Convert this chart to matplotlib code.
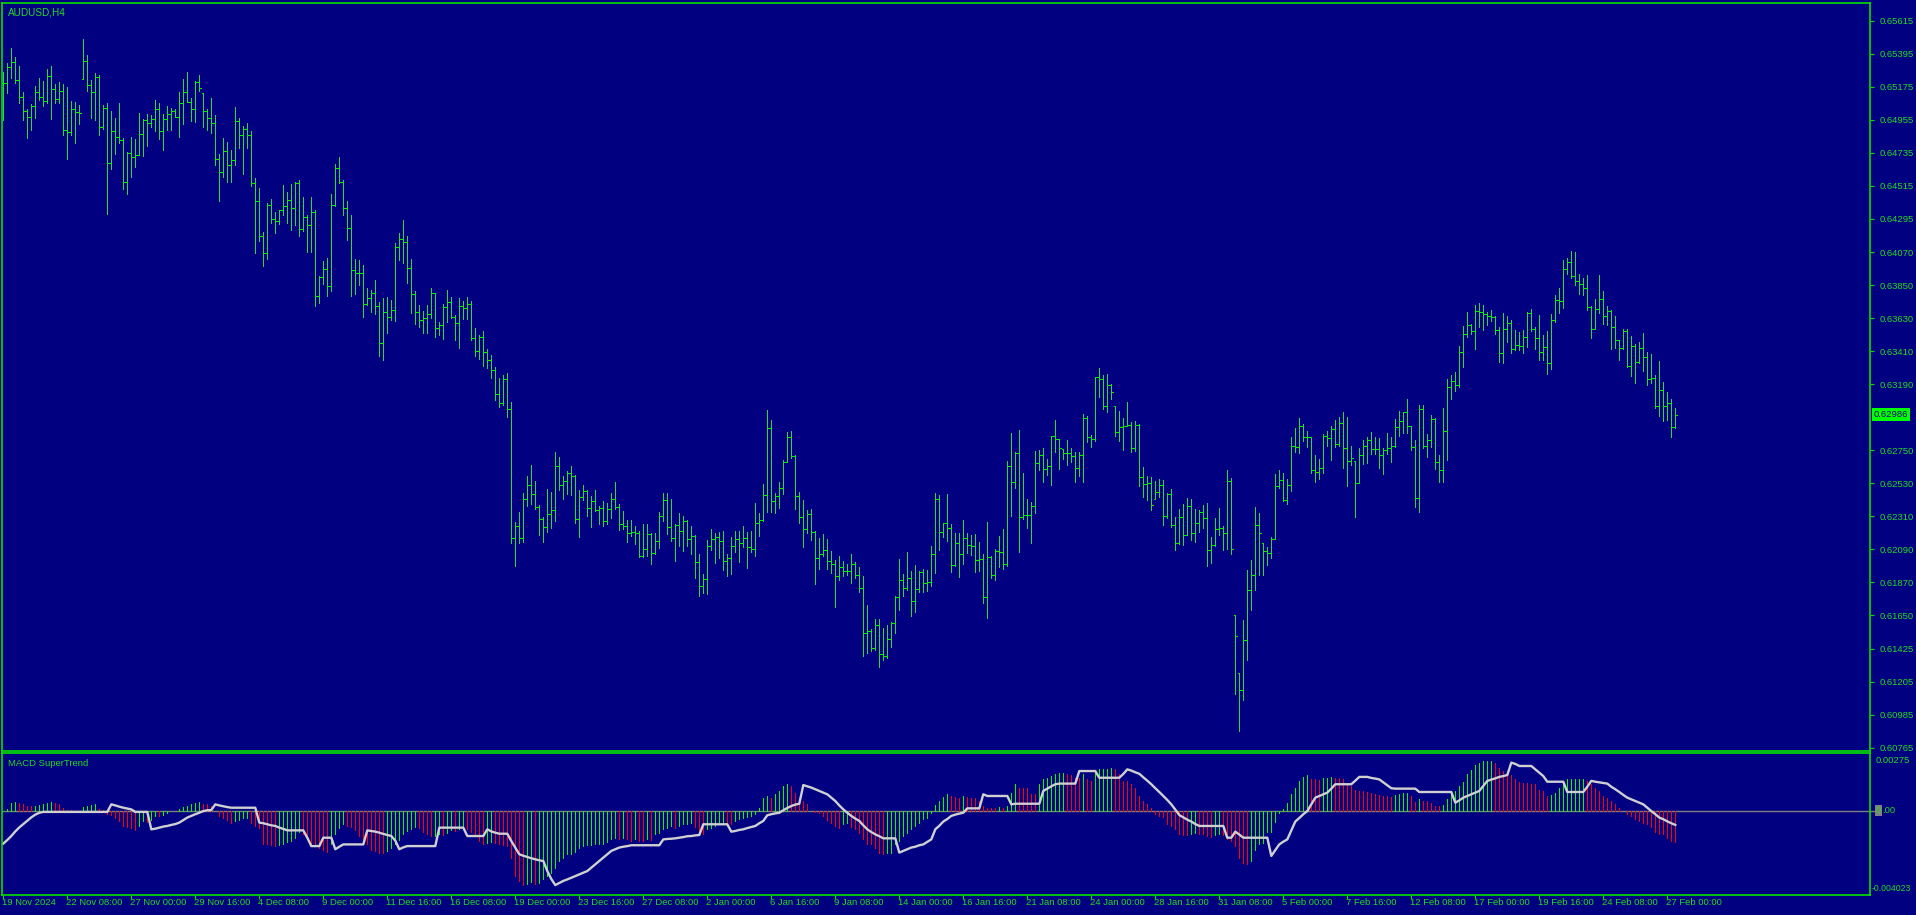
import numpy as np
import matplotlib
matplotlib.use("Agg")
import matplotlib.pyplot as plt
from matplotlib.transforms import blended_transform_factory

# AUDUSD H4 bars, prices in points (1 point = 0.00001)
high_pts = [
    65273, 65333, 65433, 65373, 65313, 65139, 65026, 65059, 65179, 65233,
    65213, 65293, 65313, 65193, 65206, 65193, 65173, 65079, 65073, 65053,
    65493, 65386, 65219, 65266, 65253, 65053, 65066, 65013, 64966, 65066,
    64833, 64739, 64839, 64826, 64999, 64959, 64993, 64986, 65086, 65066,
    64993, 65046, 65033, 65026, 65139, 65226, 65273, 65099, 65213, 65253,
    65133, 65026, 65099, 64986, 64726, 64833, 64806, 64752, 65039, 64966,
    64913, 64933, 64879, 64566, 64499, 64206, 64399, 64426, 64339, 64352,
    64519, 64472, 64526, 64539, 64552, 64439, 64319, 64439, 64352, 63912,
    64012, 64032, 64459, 64659, 64706, 64552, 64412, 64319, 64025, 64019,
    63985, 63832, 63819, 63885, 63739, 63765, 63772, 63752, 64132, 64199,
    64286, 64179, 64025, 63812, 63719, 63679, 63719, 63832, 63799, 63605,
    63725, 63819, 63772, 63652, 63765, 63745, 63772, 63745, 63565, 63519,
    63545, 63425, 63385, 63305, 63232, 63252, 63265, 63072, 62271, 62338,
    62465, 62578, 62651, 62545, 62385, 62305, 62491, 62471, 62738, 62705,
    62578, 62611, 62645, 62585, 62485, 62518, 62485, 62445, 62485, 62378,
    62411, 62398, 62465, 62538, 62391, 62345, 62285, 62285, 62245, 62211,
    62258, 62258, 62198, 62198, 62338, 62465, 62465, 62425, 62258, 62331,
    62311, 62285, 62245, 62185, 62058, 61924, 62151, 62225, 62198, 62205,
    62211, 62058, 62171, 62211, 62211, 62245, 62205, 62211, 62398, 62331,
    62525, 63018, 62952, 62465, 62538, 62685, 62872, 62878, 62718, 62471,
    62418, 62351, 62358, 62211, 62165, 62191, 62158, 62078, 62018, 62045,
    62011, 61991, 62058, 62005, 61971, 61911, 61718, 61558, 61624, 61624,
    61564, 61584, 61604, 61778, 62025, 61924, 62071, 61944, 61984, 61944,
    61958, 61951, 62111, 62465, 62451, 62265, 62458, 62258, 62198, 62198,
    62285, 62198, 62185, 62191, 62138, 62058, 62271, 62045, 62091, 62178,
    62225, 62678, 62865, 62738, 62885, 62598, 62425, 62405, 62745, 62751,
    62765, 62691, 62845, 62952, 62825, 62758, 62818, 62765, 62738, 62738,
    62992, 62978, 62851, 63238, 63298, 63252, 63258, 63192, 63045, 63012,
    62965, 63072, 62938, 62945, 62925, 62638, 62578, 62571, 62545, 62558,
    62551, 62465, 62491, 62305, 62358, 62391, 62431, 62425, 62358, 62351,
    62385, 62398, 62171, 62298, 62365, 62245, 62618, 62565, 61651, 61264,
    61618, 61951, 62018, 62371, 62331, 62131, 62105, 62171, 62591, 62618,
    62598, 62558, 62838, 62898, 62965, 62925, 62878, 62838, 62718, 62691,
    62858, 62878, 62912, 62952, 62972, 63005, 62972, 62778, 62678, 62765,
    62818, 62838, 62872, 62838, 62831, 62765, 62865, 62838, 62958, 63012,
    63005, 63092, 62912, 62818, 63052, 63052, 62858, 62985, 62965, 62718,
    63032, 63225, 63252, 63272, 63445, 63579, 63672, 63592, 63719, 63732,
    63719, 63672, 63685, 63645, 63572, 63665, 63645, 63619, 63552, 63539,
    63552, 63672, 63692, 63572, 63652, 63519, 63545, 63659, 63785, 63832,
    64019, 64032, 64079, 64072, 63925, 63899, 63919, 63712, 63759, 63919,
    63812, 63712, 63685, 63645, 63485, 63559, 63559, 63512, 63459, 63472,
    63532, 63405, 63392, 63252, 63345, 63205, 63138, 63092, 63032,
]
low_pts = [
    64953, 65133, 65233, 65199, 65066, 64953, 64833, 64886, 64966, 65086,
    65046, 65066, 64959, 65066, 65066, 64853, 64692, 64853, 64799, 64926,
    65226, 65146, 64966, 64953, 64853, 64893, 64326, 64626, 64726, 64799,
    64492, 64459, 64572, 64639, 64719, 64712, 64779, 64906, 64879, 64826,
    64752, 64886, 64886, 64973, 64839, 64926, 65073, 64946, 64939, 65146,
    64906, 64886, 64866, 64652, 64412, 64572, 64539, 64539, 64652, 64766,
    64592, 64766, 64512, 64066, 64146, 63979, 64025, 64266, 64199, 64259,
    64319, 64266, 64219, 64252, 64179, 64212, 64072, 64072, 63712, 63732,
    63859, 63779, 63812, 64379, 64532, 64319, 64152, 63779, 63792, 63852,
    63639, 63719, 63672, 63659, 63379, 63352, 63532, 63619, 63612, 64019,
    63999, 63865, 63665, 63592, 63572, 63532, 63532, 63632, 63505, 63519,
    63492, 63605, 63632, 63485, 63432, 63625, 63625, 63485, 63379, 63359,
    63312, 63298, 63232, 63085, 63038, 63052, 62972, 62131, 61978, 62131,
    62138, 62378, 62391, 62358, 62185, 62138, 62205, 62231, 62278, 62485,
    62425, 62458, 62451, 62265, 62171, 62418, 62311, 62238, 62345, 62258,
    62245, 62258, 62298, 62358, 62218, 62225, 62138, 62178, 62125, 62038,
    62038, 62045, 61991, 62058, 62098, 62278, 62191, 62145, 62011, 62111,
    62078, 62111, 62058, 61898, 61778, 61798, 61791, 62085, 61998, 62031,
    61951, 61911, 61924, 62071, 62005, 62105, 61964, 62071, 62045, 62178,
    62278, 62338, 62338, 62331, 62365, 62458, 62671, 62698, 62358, 62265,
    62105, 62198, 62151, 61858, 61958, 62045, 61958, 61931, 61704, 61884,
    61911, 61918, 61864, 61898, 61804, 61378, 61398, 61411, 61418, 61304,
    61351, 61364, 61438, 61531, 61684, 61778, 61818, 61644, 61671, 61804,
    61804, 61811, 61844, 61931, 62085, 62171, 62145, 61938, 61978, 61904,
    61991, 62065, 62051, 61938, 61944, 61731, 61631, 61898, 61884, 61971,
    61958, 61978, 62311, 62498, 62071, 62291, 62231, 62131, 62331, 62618,
    62538, 62585, 62518, 62738, 62625, 62691, 62651, 62671, 62538, 62578,
    62538, 62805, 62771, 62811, 63105, 63025, 63005, 63092, 62845, 62811,
    62751, 62912, 62738, 62745, 62511, 62438, 62418, 62351, 62425, 62438,
    62251, 62298, 62238, 62085, 62125, 62118, 62185, 62151, 62138, 62205,
    62231, 61978, 61998, 62111, 62185, 62085, 62091, 62058, 61124, 60877,
    61084, 61351, 61684, 61818, 61918, 61918, 61984, 62031, 62158, 62498,
    62411, 62391, 62478, 62738, 62731, 62811, 62771, 62598, 62538, 62558,
    62598, 62778, 62685, 62771, 62778, 62631, 62511, 62651, 62305, 62531,
    62658, 62665, 62725, 62725, 62631, 62591, 62725, 62671, 62771, 62845,
    62865, 62865, 62751, 62371, 62338, 62765, 62705, 62771, 62625, 62538,
    62538, 62685, 63092, 63145, 63172, 63305, 63505, 63525, 63425, 63572,
    63552, 63585, 63612, 63525, 63339, 63332, 63472, 63399, 63419, 63419,
    63399, 63439, 63545, 63425, 63352, 63352, 63258, 63292, 63605, 63665,
    63699, 63925, 63899, 63852, 63792, 63785, 63685, 63499, 63559, 63665,
    63592, 63585, 63425, 63432, 63352, 63425, 63305, 63245, 63198, 63332,
    63278, 63185, 63198, 63032, 62978, 62945, 62952, 62838, 62898,
]
close_pts = [
    65199, 65306, 65340, 65219, 65106, 65013, 64973, 65046, 65139, 65106,
    65079, 65246, 65159, 65093, 65146, 64886, 64873, 65026, 65006, 64999,
    65346, 65186, 65139, 65239, 64906, 65033, 64666, 64879, 64839, 64819,
    64539, 64732, 64706, 64719, 64859, 64953, 64933, 64959, 65026, 64879,
    64959, 64993, 65013, 64973, 65066, 65139, 65073, 65026, 65206, 65166,
    65013, 64966, 64933, 64692, 64606, 64746, 64652, 64686, 64946, 64853,
    64893, 64853, 64532, 64412, 64179, 64066, 64386, 64292, 64279, 64352,
    64379, 64419, 64366, 64532, 64226, 64306, 64252, 64339, 63779, 63905,
    63959, 63845, 64386, 64632, 64539, 64366, 64232, 63952, 63932, 63932,
    63725, 63765, 63799, 63712, 63465, 63672, 63639, 63685, 64106, 64159,
    64139, 63965, 63792, 63672, 63619, 63632, 63659, 63799, 63565, 63585,
    63705, 63739, 63639, 63599, 63712, 63699, 63725, 63499, 63412, 63505,
    63405, 63352, 63285, 63125, 63065, 63225, 63025, 62165, 62245, 62165,
    62425, 62518, 62458, 62371, 62291, 62238, 62325, 62351, 62645, 62518,
    62545, 62598, 62578, 62291, 62438, 62478, 62365, 62411, 62351, 62365,
    62278, 62358, 62425, 62371, 62258, 62245, 62198, 62205, 62198, 62045,
    62091, 62191, 62065, 62145, 62311, 62418, 62238, 62165, 62251, 62211,
    62278, 62158, 62178, 62005, 61844, 61891, 62111, 62158, 62171, 62145,
    62011, 62031, 62111, 62158, 62131, 62165, 62105, 62091, 62265, 62285,
    62451, 62898, 62411, 62445, 62498, 62671, 62838, 62711, 62445, 62305,
    62225, 62325, 62205, 62031, 62058, 62085, 62011, 61991, 61911, 61971,
    61944, 61944, 61991, 61918, 61831, 61531, 61544, 61431, 61584, 61391,
    61378, 61491, 61598, 61771, 61884, 61831, 61898, 61744, 61824, 61938,
    61864, 61871, 62058, 62425, 62205, 62265, 62231, 61984, 62131, 62058,
    62165, 62118, 62111, 62018, 62025, 61771, 62038, 61918, 62078, 62071,
    61991, 62645, 62538, 62731, 62305, 62318, 62318, 62378, 62665, 62718,
    62625, 62645, 62845, 62825, 62765, 62731, 62731, 62711, 62631, 62718,
    62965, 62838, 62825, 63238, 63225, 63045, 63185, 63138, 62872, 62905,
    62912, 62918, 62765, 62918, 62571, 62525, 62531, 62385, 62471, 62518,
    62311, 62458, 62251, 62131, 62305, 62185, 62378, 62198, 62265, 62338,
    62298, 62085, 62118, 62225, 62231, 62198, 62545, 62091, 61511, 61151,
    61484, 61818, 61918, 62251, 62198, 62078, 62065, 62158, 62511, 62551,
    62418, 62518, 62778, 62771, 62912, 62838, 62838, 62618, 62605, 62631,
    62845, 62831, 62892, 62791, 62932, 62765, 62678, 62698, 62531, 62718,
    62778, 62818, 62758, 62758, 62718, 62751, 62765, 62778, 62905, 62945,
    63005, 62912, 62771, 62431, 63025, 62778, 62818, 62958, 62671, 62618,
    62878, 63172, 63212, 63185, 63405, 63525, 63585, 63545, 63679, 63672,
    63659, 63645, 63639, 63552, 63399, 63559, 63599, 63425, 63452, 63445,
    63505, 63665, 63559, 63499, 63405, 63439, 63332, 63619, 63752, 63745,
    63959, 64005, 63912, 63879, 63859, 63832, 63705, 63559, 63692, 63759,
    63645, 63679, 63572, 63485, 63432, 63545, 63312, 63445, 63339, 63432,
    63372, 63225, 63232, 63045, 63152, 63045, 63065, 62905, 62986,
]

# MACD SuperTrend window, values in 1e-5
hist_e5 = [
    0, 8, 38, 43, 38, 30, 21, 21, 24, 27,
    30, 35, 40, 35, 33, 11, 3, 2, 0, 0,
    17, 21, 25, 30, 10, 5, -17, -22, -37, -49,
    -73, -78, -84, -94, -73, -49, -52, -43, -25, -27,
    -21, -13, -3, 0, 6, 17, 21, 30, 38, 43,
    33, 30, 21, 0, -25, -37, -46, -59, -49, -43,
    -37, -33, -59, -72, -81, -161, -161, -164, -169, -164,
    -161, -149, -145, -129, -100, -113, -137, -164, -169, -178,
    -186, -196, -161, -113, -81, -65, -73, -80, -92, -122,
    -145, -161, -186, -194, -200, -202, -192, -176, -161, -138,
    -113, -97, -86, -78, -81, -100, -113, -122, -121, -113,
    -114, -105, -94, -97, -89, -78, -89, -100, -113, -145,
    -161, -154, -149, -154, -161, -164, -169, -224, -312, -335,
    -355, -348, -342, -351, -343, -328, -312, -296, -272, -240,
    -224, -208, -208, -196, -176, -169, -165, -162, -159, -159,
    -159, -148, -137, -129, -134, -132, -137, -145, -137, -145,
    -145, -137, -142, -113, -105, -89, -81, -73, -81, -73,
    -65, -65, -57, -78, -100, -110, -89, -81, -73, -65,
    -57, -62, -62, -49, -41, -37, -30, -25, -17, 11,
    62, 70, 62, 78, 94, 118, 129, 118, 86, 62,
    46, 30, 0, -5, -10, -25, -46, -57, -73, -81,
    -65, -57, -78, -89, -105, -137, -157, -161, -176, -200,
    -208, -200, -200, -161, -145, -121, -105, -89, -73, -57,
    -41, -33, -10, 27, 46, 65, 78, 70, 67, 62,
    70, 67, 62, 62, 46, 22, 14, 14, 14, 17,
    14, 22, 86, 126, 110, 110, 110, 78, 78, 126,
    149, 157, 165, 173, 181, 181, 173, 169, 157, 157,
    173, 149, 142, 189, 197, 197, 197, 205, 197, 173,
    142, 142, 126, 110, 70, 46, 30, 14, -14, -25,
    -30, -65, -73, -89, -113, -116, -116, -113, -105, -113,
    -113, -121, -126, -116, -113, -116, -137, -143, -169, -224,
    -251, -253, -240, -189, -161, -153, -102, -102, -52, -10,
    6, 35, 78, 110, 142, 161, 169, 153, 149, 145,
    157, 157, 162, 157, 154, 153, 126, 118, 97, 94,
    92, 91, 86, 78, 73, 70, 68, 65, 73, 78,
    86, 86, 70, 41, 54, 46, 46, 38, 22, 21,
    25, 54, 78, 94, 118, 138, 176, 192, 216, 229,
    235, 235, 235, 229, 205, 189, 181, 169, 149, 138,
    134, 134, 129, 126, 97, 94, 70, 73, 86, 110,
    142, 149, 149, 149, 149, 149, 142, 126, 110, 94,
    70, 62, 46, 30, 11, 0, -17, -25, -41, -49,
    -57, -65, -78, -100, -110, -113, -129, -145, -149,
]
trend_e5 = [
    -157, -140, -121, -99, -80, -64, -48, -32, -19, -10,
    -6, -6, -6, -6, -6, -6, -6, -6, -6, -6,
    -6, -6, -6, -6, -6, -6, -6, 30, 25, 19,
    14, 10, 6, -6, -6, -6, -6, -89, -86, -81,
    -76, -73, -68, -64, -57, -45, -33, -25, -17, -10,
    -2, 2, 3, 30, 25, 21, 17, 14, 14, 14,
    14, 14, 14, 14, -57, -60, -65, -70, -73, -81,
    -87, -94, -94, -94, -94, -94, -129, -169, -169, -169,
    -129, -129, -129, -184, -172, -161, -161, -161, -161, -161,
    -161, -94, -97, -100, -105, -111, -116, -121, -143, -184,
    -175, -169, -169, -169, -169, -169, -169, -169, -169, -81,
    -81, -81, -81, -81, -81, -81, -121, -121, -121, -121,
    -121, -89, -99, -105, -110, -110, -110, -145, -176, -208,
    -215, -221, -227, -232, -237, -240, -288, -326, -355, -345,
    -335, -328, -320, -312, -304, -296, -288, -272, -256, -240,
    -224, -208, -192, -184, -176, -172, -169, -165, -165, -165,
    -165, -165, -165, -165, -165, -137, -135, -134, -132, -129,
    -126, -122, -121, -118, -116, -65, -65, -65, -65, -65,
    -65, -65, -100, -97, -92, -89, -83, -78, -73, -60,
    -49, -22, -17, -13, -10, 2, 13, 22, 29, 33,
    122, 116, 110, 102, 94, 86, 78, 62, 46, 25,
    6, -10, -25, -38, -49, -70, -89, -102, -113, -122,
    -132, -132, -132, -132, -200, -192, -184, -176, -172, -165,
    -161, -149, -137, -89, -72, -52, -40, -25, -19, -14,
    -10, 11, 11, 11, 11, 78, 70, 70, 70, 70,
    70, 70, 30, 33, 33, 33, 33, 33, 33, 33,
    94, 105, 116, 126, 129, 129, 129, 129, 129, 189,
    189, 189, 189, 189, 157, 157, 157, 157, 157, 157,
    175, 197, 191, 183, 176, 159, 143, 126, 107, 89,
    70, 51, 30, 5, -21, -32, -43, -52, -64, -73,
    -73, -73, -73, -73, -73, -73, -129, -129, -100, -114,
    -129, -129, -129, -129, -129, -129, -129, -216, -188, -161,
    -148, -137, -95, -52, -35, -17, -2, 30, 62, 70,
    78, 86, 105, 126, 126, 126, 126, 126, 143, 161,
    161, 161, 156, 153, 149, 135, 121, 107, 105, 105,
    105, 105, 105, 105, 89, 89, 89, 89, 89, 89,
    89, 89, 89, 38, 49, 62, 70, 78, 86, 94,
    118, 142, 148, 154, 161, 165, 170, 229, 223, 213,
    213, 213, 213, 197, 181, 165, 138, 138, 138, 138,
    138, 89, 89, 89, 89, 89, 114, 142, 138, 135,
    132, 129, 114, 102, 89, 75, 62, 54, 46, 38,
    30, 14, -2, -17, -33, -41, -51, -60, -68,
]

price_ticks = [0.65615, 0.65395, 0.65175, 0.64955, 0.64735, 0.64515, 0.64295,
               0.64070, 0.63850, 0.63630, 0.63410, 0.63190, 0.62750, 0.62530,
               0.62310, 0.62090, 0.61870, 0.61650, 0.61425, 0.61205, 0.60985,
               0.60765]
date_labels = ["19 Nov 2024", "22 Nov 08:00", "27 Nov 00:00", "29 Nov 16:00",
               "4 Dec 08:00", "9 Dec 00:00", "11 Dec 16:00", "16 Dec 08:00",
               "19 Dec 00:00", "23 Dec 16:00", "27 Dec 08:00", "2 Jan 00:00",
               "6 Jan 16:00", "9 Jan 08:00", "14 Jan 00:00", "16 Jan 16:00",
               "21 Jan 08:00", "24 Jan 00:00", "28 Jan 16:00", "31 Jan 08:00",
               "5 Feb 00:00", "7 Feb 16:00", "12 Feb 08:00", "17 Feb 00:00",
               "19 Feb 16:00", "24 Feb 08:00", "27 Feb 00:00"]
macd_top, macd_bottom = 0.00275, -0.004023

BG = '#000080'
FRAME = '#00E000'
TXT = '#22DD22'
BAR = '#30D840'
FS = 6.8
plt.rcParams['font.family'] = ['Liberation Sans', 'DejaVu Sans']

high = np.array(high_pts) / 1e5
low = np.array(low_pts) / 1e5
close = np.clip(np.array(close_pts) / 1e5, low, high)
opn = np.clip(np.r_[close[0], close[:-1]], low, high)
hist = np.array(hist_e5) / 1e5
trend = np.array(trend_e5) / 1e5
x = np.arange(len(close))

W, H = 1916, 915
fig = plt.figure(figsize=(W / 100, H / 100), dpi=100, facecolor=BG)


def px_axes(x0, y0, x1, y1):
    a = fig.add_axes([x0 / W, 1 - y1 / H, (x1 - x0) / W, (y1 - y0) / H])
    a.set_facecolor(BG)
    for s in a.spines.values():
        s.set_color(FRAME)
        s.set_linewidth(1.2)
    return a


ax = px_axes(2, 3, 1870, 751)
mx = px_axes(2, 753, 1870, 895)

# 4 px per bar, first bar 1.3 px inside the frame
x0 = -1.3 / 4
for a in (ax, mx):
    a.set_xlim(x0, x0 + 1868 / 4)

# price bars
LW = 0.72
ax.vlines(x, low, high, color=BAR, lw=LW, antialiased=False)
ax.hlines(opn, x - 0.3, x, color='#00F000', lw=LW, antialiased=False)
ax.hlines(close, x, x + 0.3, color='#00F000', lw=LW, antialiased=False)
ax.set_ylim(0.60744, 0.65733)
ax.set_xticks([])
ax.yaxis.tick_right()
ax.set_yticks(price_ticks)
ax.set_yticklabels(['%.5f' % p for p in price_ticks])
ax.tick_params(axis='y', direction='out', length=3, color=FRAME, labelcolor=TXT,
               labelsize=FS, pad=4)
ax.text(0.003, 0.994, 'AUDUSD,H4', transform=ax.transAxes, color=TXT,
        fontsize=FS + 0.4, va='top', ha='left')

# current price tag
yd = ax.transData.transform((0, close[-1]))[1]
fig.text(1874 / W, yd / H, '%.5f' % close[-1], color=BG, fontsize=FS,
         va='center', ha='left',
         bbox=dict(boxstyle='square,pad=0.2', fc='#00FF00', ec='none'))

# MACD pane
cols = []
up = True
prev = hist[0]
for v in hist:
    if v > prev:
        up = True
    elif v < prev:
        up = False
    prev = v
    cols.append('#00FF00' if up else '#FF0000')
mx.axhline(0, color='#808080', lw=1.0)
mx.vlines(x, 0, hist, colors=cols, lw=LW, antialiased=False)
mx.plot(x, trend, color='#D0D0D0', lw=1.7)
mx.set_ylim(macd_bottom, macd_top)
mx.set_yticks([])
mx.text(0.003, 0.96, 'MACD SuperTrend', transform=mx.transAxes, color=TXT,
        fontsize=FS, va='top', ha='left')

trans = blended_transform_factory(mx.transAxes, mx.transData)
fig.text(1876 / W, 1 - 756 / H, '%.5f' % macd_top, color=TXT, fontsize=FS,
         va='top', ha='left')
fig.text(1872 / W, 1 - 893 / H, '%.6f' % macd_bottom, color=TXT, fontsize=FS - 0.6,
         va='bottom', ha='left')
y0 = mx.transData.transform((0, 0))[1]
fig.text(1876 / W, y0 / H, '0', color=TXT, fontsize=FS, va='center', ha='left',
         bbox=dict(boxstyle='square,pad=0.1', fc='#808080', ec='none'))
fig.text(1882 / W, y0 / H, '.00', color=TXT, fontsize=FS, va='center', ha='left')
mx.plot([1.0, 1.003], [0, 0], color='#808080', lw=1.0, transform=trans,
        clip_on=False)

# time axis
pos = np.arange(len(date_labels)) * 16
mx.set_xticks(pos)
mx.set_xticklabels([])
mx.tick_params(axis='x', direction='out', length=3, color=FRAME)
tb = blended_transform_factory(mx.transData, fig.transFigure)
for p, lab in zip(pos, date_labels):
    mx.text(p - 0.2, 1 - 898 / H, lab, transform=tb, color=TXT, fontsize=FS,
            va='top', ha='left')

fig.savefig('out.png', dpi=100, facecolor=BG)
